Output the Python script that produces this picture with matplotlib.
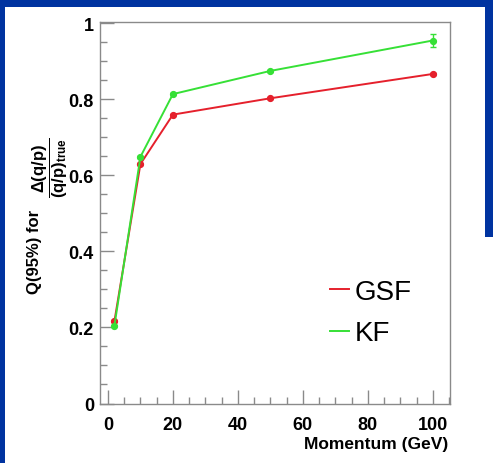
import matplotlib
matplotlib.use("Agg")
import matplotlib.pyplot as plt
from matplotlib.patches import Rectangle
from matplotlib.lines import Line2D
from matplotlib.ticker import MultipleLocator, FuncFormatter

plt.rcParams["font.family"] = ["Liberation Sans", "DejaVu Sans"]
plt.rcParams["mathtext.fontset"] = "custom"
plt.rcParams["mathtext.rm"] = "Liberation Sans:bold"
plt.rcParams["mathtext.bf"] = "Liberation Sans:bold"
plt.rcParams["mathtext.it"] = "Liberation Sans:bold"
plt.rcParams["mathtext.default"] = "bf"

# Momentum points (GeV) and 95% quantile of the relative q/p resolution
momentum = [2, 10, 20, 50, 100]
gsf_q95 = [0.217, 0.630, 0.760, 0.803, 0.867]
gsf_err = [0.002, 0.002, 0.002, 0.002, 0.003]
kf_q95 = [0.205, 0.649, 0.814, 0.875, 0.955]
kf_err = [0.002, 0.002, 0.002, 0.003, 0.016]

series_labels = ["GSF", "KF"]
x_ticks = [0, 20, 40, 60, 80, 100]
y_ticks = [0, 0.2, 0.4, 0.6, 0.8, 1.0]

RED = "#e5202c"
GREEN = "#36e036"
BLUE = "#0033a0"
GRAY = "#8a8a8a"

W, H = 493, 464
fig = plt.figure(figsize=(W / 100, H / 100), dpi=100)
fig.patch.set_facecolor("white")

# slide-style blue frame
for (x0, y0, w, h) in [(0, H - 8, W, 8), (0, 0, 5, H), (485, H - 238, 8, 238)]:
    fig.add_artist(Rectangle((x0 / W, y0 / H), w / W, h / H, transform=fig.transFigure,
                             facecolor=BLUE, edgecolor="none", zorder=0))

left, right, top, bottom = 99.5, 450.0, 22.5, 404.5
aw, ah = right - left, bottom - top
ax = fig.add_axes([left / W, 1 - bottom / H, aw / W, ah / H])

ax.errorbar(momentum, gsf_q95, yerr=gsf_err, color=RED, lw=1.4, marker="o", ms=4.2,
            capsize=2, elinewidth=1.0, capthick=1.0, zorder=3)
ax.errorbar(momentum, kf_q95, yerr=kf_err, color=GREEN, lw=1.4, marker="o", ms=4.2,
            capsize=2, elinewidth=1.0, capthick=1.0, zorder=3)

ax.set_xlim(-2.6, 105.3)
ax.set_ylim(0, 1.005)

ax.xaxis.set_minor_locator(MultipleLocator(5))
ax.yaxis.set_minor_locator(MultipleLocator(0.05))
ax.set_xticks(x_ticks)
ax.set_yticks(y_ticks)
ax.yaxis.set_major_formatter(FuncFormatter(lambda v, p: "%g" % round(v, 2)))

ax.tick_params(which="both", direction="in", color=GRAY, width=1.0,
               top=False, right=False, labelsize=13)
ax.tick_params(which="major", length=10)
ax.tick_params(which="minor", length=5)
ax.tick_params(axis="x", pad=9)
ax.tick_params(axis="y", pad=4)
for lab in ax.get_xticklabels() + ax.get_yticklabels():
    lab.set_fontweight("bold")

for sp in ax.spines.values():
    sp.set_color(GRAY)
    sp.set_linewidth(1.0)

ax.set_xlabel("Momentum (GeV)", fontsize=12.5, fontweight="bold", ha="right", va="top")
ax.xaxis.set_label_coords(1 - 2 / aw, -(437 - bottom) / ah)

# y title: plain text part plus the fraction, which sits slightly lower
ax.set_ylabel("Q(95%) for", fontsize=12, fontweight="bold")
ax.yaxis.set_label_coords(-(left - 42) / aw, (bottom - 252) / ah)
ax.text(-(left - 50) / aw, (bottom - 168) / ah,
        r"$\dfrac{\Delta(q/p)}{(q/p)_{true}}$", transform=ax.transAxes,
        rotation=90, ha="center", va="center", fontsize=12)

handles = [Line2D([], [], color=RED, lw=1.4), Line2D([], [], color=GREEN, lw=1.4)]
ax.legend(handles, series_labels, loc="upper left",
          bbox_to_anchor=((330 - left) / aw, (bottom - 280) / ah),
          frameon=False, fontsize=20, handlelength=0.7, handletextpad=0.2,
          labelspacing=0.55, borderpad=0, borderaxespad=0)

fig.savefig("out.png", dpi=100, facecolor=fig.get_facecolor())
